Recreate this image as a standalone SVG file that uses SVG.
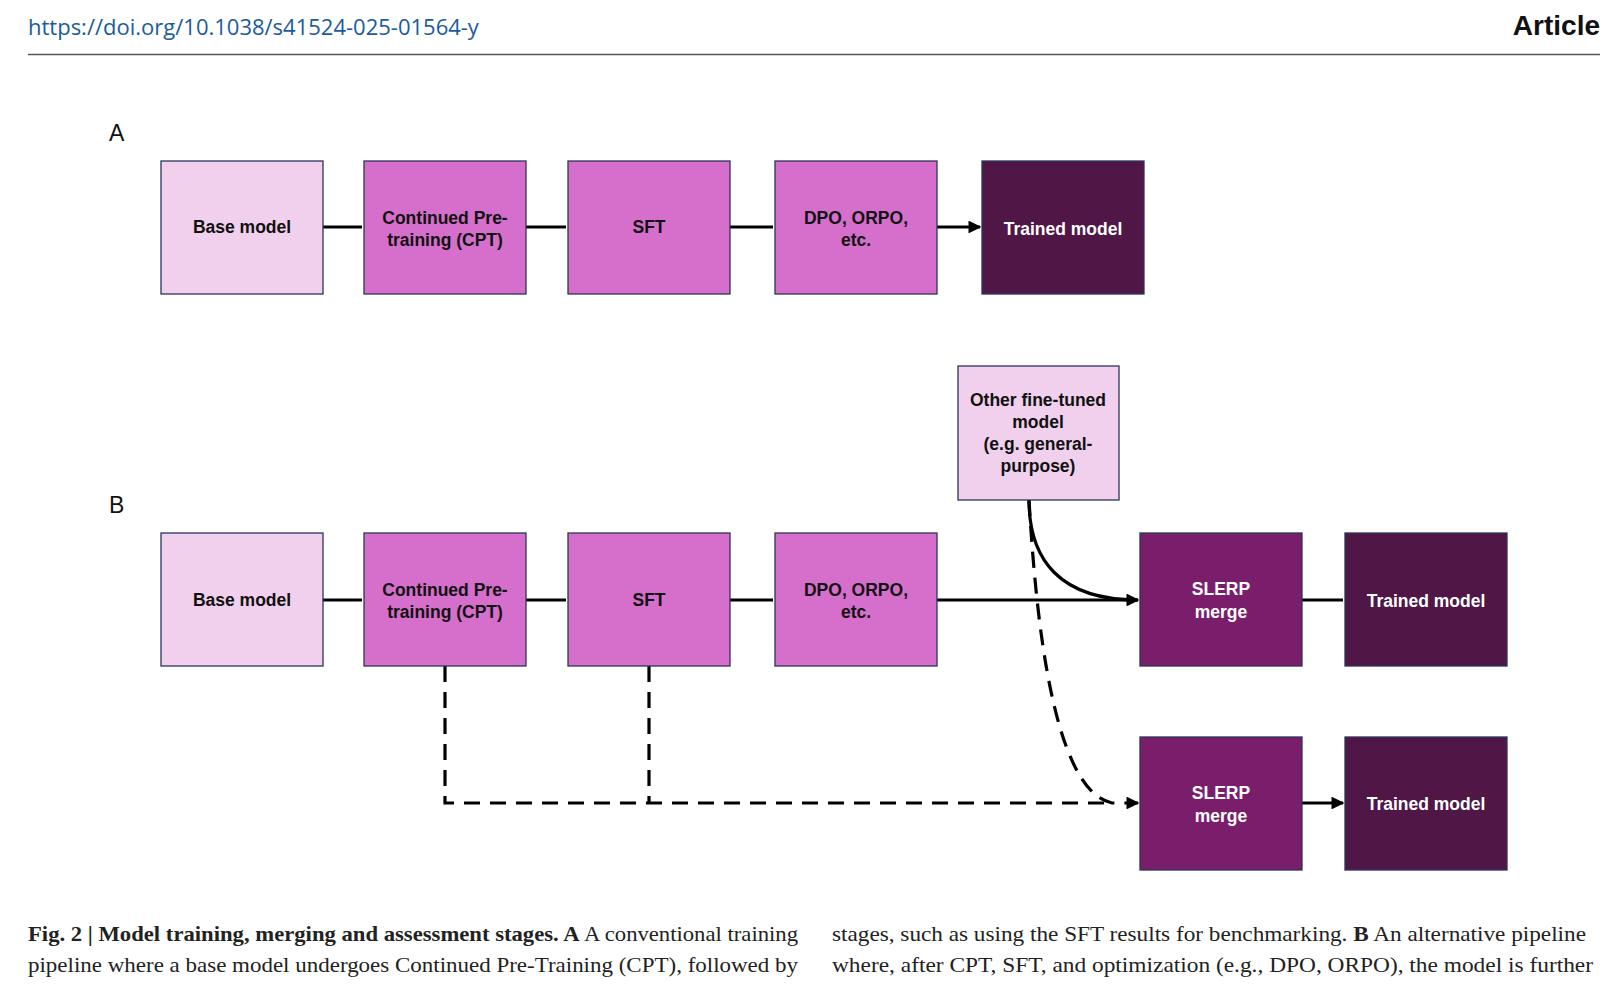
<svg xmlns="http://www.w3.org/2000/svg" width="1621" height="985" viewBox="0 0 1621 985">
<style>
.b{stroke:#2c3557;stroke-width:1.3}
.l{fill:#f0d0ec}.m{fill:#d66ecc}.d{fill:#4f1646}.s{fill:#7a1e6c}
.t{font-family:"Liberation Sans",Arial,sans-serif;font-weight:bold;font-size:17.5px;text-anchor:middle;fill:#111}
.w{fill:#fff}
.c{stroke:#000;stroke-width:3.2;fill:none}
.dash{stroke-dasharray:16 10}
.cap{font-family:"Liberation Serif","Times New Roman",serif;font-size:21.5px;fill:#222}
</style>
<defs><marker id="a" viewBox="0 0 10 10" refX="9" refY="5" markerWidth="4" markerHeight="4" orient="auto" markerUnits="strokeWidth"><path d="M0,0L10,5L0,10z" fill="#000"/></marker></defs>
<rect width="1621" height="985" fill="#fff"/>
<text x="28" y="35" font-family="'Open Sans','Liberation Sans',sans-serif" font-size="22" fill="#1a5c9a">https://doi.org/10.1038/s41524-025-01564-y</text>
<text x="1600" y="35" text-anchor="end" font-family="'Liberation Sans',Arial,sans-serif" font-weight="bold" font-size="28" fill="#111">Article</text>
<line x1="28" y1="54.5" x2="1600" y2="54.5" stroke="#555" stroke-width="1.5"/>
<text x="109" y="141" font-family="'Liberation Sans',Arial,sans-serif" font-size="23" fill="#111">A</text>
<text x="109" y="513" font-family="'Liberation Sans',Arial,sans-serif" font-size="23" fill="#111">B</text>
<g id="connectors">
<path class="c" marker-end="url(#a)" d="M323,227H362M526,227H566M730,227H773M937,227H980"/>
<path class="c" marker-end="url(#a)" d="M323,600H362M526,600H566M730,600H773M937,600H1138M1302,600H1343M1302,803H1343"/>
<path class="c" marker-end="url(#a)" d="M1029,500C1029,560 1060,600 1138,600"/>
<path class="c dash" d="M445,666V803H1110M649,666V803"/>
<path class="c dash" marker-end="url(#a)" d="M1029,500C1035,600 1050,790 1112,803H1138"/>
</g>
<g id="a1"><rect class="b l" x="161" y="161" width="162" height="133"/><text class="t" x="242" y="233">Base model</text></g>
<g id="a2"><rect class="b m" x="364" y="161" width="162" height="133"/><text class="t" x="445" y="224">Continued Pre-</text><text class="t" x="445" y="246">training (CPT)</text></g>
<g id="a3"><rect class="b m" x="568" y="161" width="162" height="133"/><text class="t" x="649" y="233">SFT</text></g>
<g id="a4"><rect class="b m" x="775" y="161" width="162" height="133"/><text class="t" x="856" y="224">DPO, ORPO,</text><text class="t" x="856" y="246">etc.</text></g>
<g id="a5"><rect class="b d" x="982" y="161" width="162" height="133"/><text class="t w" x="1063" y="235">Trained model</text></g>
<g id="other"><rect class="b l" x="958" y="366" width="161" height="134"/><text class="t" x="1038" y="406">Other fine-tuned</text><text class="t" x="1038" y="428">model</text><text class="t" x="1038" y="450">(e.g. general-</text><text class="t" x="1038" y="472">purpose)</text></g>
<g id="b1"><rect class="b l" x="161" y="533" width="162" height="133"/><text class="t" x="242" y="606">Base model</text></g>
<g id="b2"><rect class="b m" x="364" y="533" width="162" height="133"/><text class="t" x="445" y="596">Continued Pre-</text><text class="t" x="445" y="618">training (CPT)</text></g>
<g id="b3"><rect class="b m" x="568" y="533" width="162" height="133"/><text class="t" x="649" y="606">SFT</text></g>
<g id="b4"><rect class="b m" x="775" y="533" width="162" height="133"/><text class="t" x="856" y="596">DPO, ORPO,</text><text class="t" x="856" y="618">etc.</text></g>
<g id="b5"><rect class="b s" x="1140" y="533" width="162" height="133"/><text class="t w" x="1221" y="595">SLERP</text><text class="t w" x="1221" y="618">merge</text></g>
<g id="b6"><rect class="b d" x="1345" y="533" width="162" height="133"/><text class="t w" x="1426" y="607">Trained model</text></g>
<g id="c1"><rect class="b s" x="1140" y="737" width="162" height="133"/><text class="t w" x="1221" y="799">SLERP</text><text class="t w" x="1221" y="822">merge</text></g>
<g id="c2"><rect class="b d" x="1345" y="737" width="162" height="133"/><text class="t w" x="1426" y="810">Trained model</text></g>
<text class="cap" x="28" y="941" textLength="770" lengthAdjust="spacingAndGlyphs"><tspan font-weight="bold">Fig. 2 | Model training, merging and assessment stages. A</tspan> A conventional training</text>
<text class="cap" x="28" y="972" textLength="770" lengthAdjust="spacingAndGlyphs">pipeline where a base model undergoes Continued Pre-Training (CPT), followed by</text>
<text class="cap" x="832" y="941" textLength="754" lengthAdjust="spacingAndGlyphs">stages, such as using the SFT results for benchmarking. <tspan font-weight="bold">B</tspan> An alternative pipeline</text>
<text class="cap" x="832" y="972" textLength="761" lengthAdjust="spacingAndGlyphs">where, after CPT, SFT, and optimization (e.g., DPO, ORPO), the model is further</text>
</svg>
